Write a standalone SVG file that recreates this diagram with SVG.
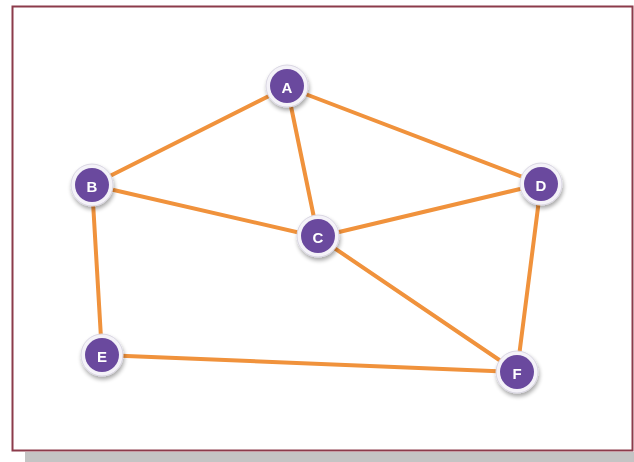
<svg xmlns="http://www.w3.org/2000/svg" width="634" height="462" viewBox="0 0 634 462">
  <style>
    .edge { stroke: #f0923c; stroke-width: 4; stroke-linecap: round; fill: none; }
    .ring { fill: #f4f2f8; stroke: #d9d6e2; stroke-width: 1; }
    .core { fill: #6a4a9e; }
    .lbl { font-family: "Liberation Sans", Arial, sans-serif; font-size: 15px; font-weight: bold; fill: #ffffff; text-anchor: middle; dominant-baseline: central; }
  </style>
  <defs>
    <filter id="sh" x="-50%" y="-50%" width="200%" height="200%">
      <feGaussianBlur in="SourceAlpha" stdDeviation="2"/>
      <feOffset dx="1" dy="3" result="b"/>
      <feComponentTransfer><feFuncA type="linear" slope="0.35"/></feComponentTransfer>
      <feMerge><feMergeNode/><feMergeNode in="SourceGraphic"/></feMerge>
    </filter>
  </defs>
  <rect width="634" height="462" fill="#ffffff"/>
  <!-- frame with drop shadow -->
  <rect x="25" y="452" width="609" height="10" fill="#c4c4c4"/>
  <rect x="12.5" y="6.5" width="620" height="444" fill="#ffffff" stroke="#8c3b4b" stroke-width="2"/>

  <g id="connectors">
    <line class="edge" x1="287" y1="87" x2="92" y2="185"/>
    <line class="edge" x1="287" y1="87" x2="318" y2="237"/>
    <line class="edge" x1="287" y1="87" x2="541" y2="184"/>
    <line class="edge" x1="92" y1="185" x2="318" y2="237"/>
    <line class="edge" x1="318" y1="237" x2="541" y2="184"/>
    <line class="edge" x1="92" y1="185" x2="102" y2="355"/>
    <line class="edge" x1="102" y1="355" x2="517" y2="372"/>
    <line class="edge" x1="318" y1="237" x2="517" y2="372"/>
    <line class="edge" x1="541" y1="184" x2="517" y2="372"/>
  </g>

  <g id="node-A" filter="url(#sh)">
    <circle class="ring" cx="287" cy="86" r="21"/>
    <circle class="core" cx="287" cy="86" r="17"/>
    <text class="lbl" x="287" y="87">A</text>
  </g>
  <g id="node-B" filter="url(#sh)">
    <circle class="ring" cx="92" cy="185" r="21"/>
    <circle class="core" cx="92" cy="185" r="17"/>
    <text class="lbl" x="92" y="186">B</text>
  </g>
  <g id="node-C" filter="url(#sh)">
    <circle class="ring" cx="318" cy="236" r="21"/>
    <circle class="core" cx="318" cy="236" r="17"/>
    <text class="lbl" x="318" y="237">C</text>
  </g>
  <g id="node-D" filter="url(#sh)">
    <circle class="ring" cx="541" cy="184" r="21"/>
    <circle class="core" cx="541" cy="184" r="17"/>
    <text class="lbl" x="541" y="185">D</text>
  </g>
  <g id="node-E" filter="url(#sh)">
    <circle class="ring" cx="102" cy="355" r="21"/>
    <circle class="core" cx="102" cy="355" r="17"/>
    <text class="lbl" x="102" y="356">E</text>
  </g>
  <g id="node-F" filter="url(#sh)">
    <circle class="ring" cx="517" cy="372" r="21"/>
    <circle class="core" cx="517" cy="372" r="17"/>
    <text class="lbl" x="517" y="373">F</text>
  </g>
</svg>
